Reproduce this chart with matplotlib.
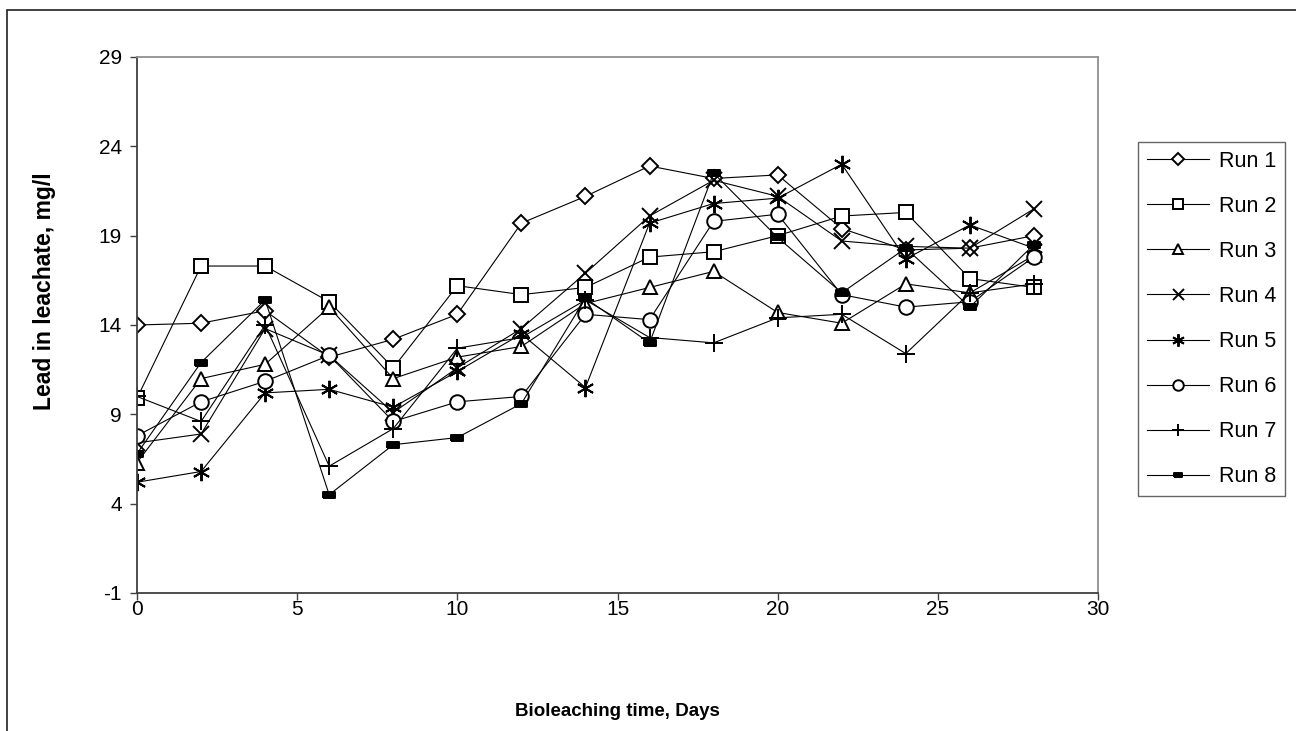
import matplotlib
matplotlib.use("Agg")
import matplotlib.pyplot as plt
from matplotlib.patches import Rectangle

plt.rcParams["font.family"] = ["Liberation Sans", "DejaVu Sans"]
plt.rcParams["axes.unicode_minus"] = False

# 数据（从原图读出，单位 mg/l）
days = [0, 2, 4, 6, 8, 10, 12, 14, 16, 18, 20, 22, 24, 26, 28]
run1 = [14.0, 14.1, 14.8, 12.2, 13.2, 14.6, 19.7, 21.2, 22.9, 22.2, 22.4, 19.4, 18.2, 18.3, 19.0]
run2 = [9.9, 17.3, 17.3, 15.3, 11.6, 16.2, 15.7, 16.1, 17.8, 18.1, 19.0, 20.1, 20.3, 16.6, 16.1]
run3 = [6.3, 11.0, 11.8, 15.0, 11.0, 12.2, 12.8, 15.2, 16.1, 17.0, 14.7, 14.1, 16.3, 15.8, 17.9]
run4 = [7.4, 7.9, 13.8, 12.3, 9.1, 11.6, 13.8, 16.9, 20.1, 22.1, 21.2, 18.7, 18.4, 18.3, 20.5]
run5 = [5.2, 5.8, 10.2, 10.4, 9.4, 11.4, 13.5, 10.5, 19.7, 20.8, 21.1, 23.0, 17.7, 19.6, 18.3]
run6 = [7.8, 9.7, 10.85, 12.3, 8.6, 9.7, 10.0, 14.6, 14.3, 19.8, 20.2, 15.7, 15.0, 15.3, 17.8]
run7 = [10.0, 8.6, 14.0, 6.1, 8.2, 12.7, 13.3, 15.4, 13.3, 13.0, 14.4, 14.6, 12.4, 15.8, 16.3]
run8 = [6.8, 11.9, 15.4, 4.5, 7.3, 7.7, 9.6, 15.5, 13.0, 22.5, 18.9, 15.8, 18.3, 15.0, 18.5]
labels = ["Run 1", "Run 2", "Run 3", "Run 4", "Run 5", "Run 6", "Run 7", "Run 8"]

runs = [run1, run2, run3, run4, run5, run6, run7, run8]

# Excel 风格标记：空心菱形/方块/三角/叉/星/圆/加号/黑色小长条
bar = [(-1, -0.45), (1, -0.45), (1, 0.45), (-1, 0.45), (-1, -0.45)]
styles = [
    dict(marker="D", ms=8.5, mfc="white"),
    dict(marker="s", ms=10.5, mfc="white"),
    dict(marker="^", ms=10.5, mfc="white"),
    dict(marker="x", ms=11),
    dict(marker=(6, 2, 0), ms=12.5),
    dict(marker="o", ms=10.5, mfc="white"),
    dict(marker="+", ms=12.5),
    dict(marker=bar, ms=8.5, mfc="black"),
]

fig = plt.figure(figsize=(12.96, 7.31), dpi=100)
ax = fig.add_axes([137 / 1296, 1 - 593 / 731, (1098 - 137) / 1296, (593 - 57) / 731])

for y, lab, st in zip(runs, labels, styles):
    ax.plot(days, y, color="black", lw=0.8, mec="black", mew=1.4, label=lab, **st)

ax.set_xlim(0, 30)
ax.set_ylim(-1, 29)
ax.set_xticks(range(0, 31, 5))
ax.set_yticks(range(-1, 30, 5))
ax.tick_params(direction="out", length=5, width=1, labelsize=15, color="#404040")
ax.tick_params(axis="y", pad=6)
ax.tick_params(axis="x", pad=0)
for s in ["left", "bottom"]:
    ax.spines[s].set_color("#404040")
    ax.spines[s].set_linewidth(1.3)
for s in ["top", "right"]:
    ax.spines[s].set_color("#909090")
    ax.spines[s].set_linewidth(1.3)

ax.set_xlabel("Bioleaching time, Days", fontsize=13.5, fontweight="bold")
ax.set_ylabel("Lead in leachate, mg/l", fontsize=16.5, fontweight="bold")
ax.xaxis.set_label_coords(0.5, -(711 - 593) / 536, transform=ax.transAxes)
ax.xaxis.label.set_va("center")
ax.yaxis.set_label_coords(-(137 - 45) / 961, (593 - 291) / 536, transform=ax.transAxes)
ax.yaxis.label.set_va("center")

leg = fig.legend(
    loc="upper left",
    bbox_to_anchor=(1138 / 1296, 1 - 142 / 731),
    frameon=True,
    fancybox=False,
    fontsize=15.5,
    handlelength=2.9,
    handletextpad=0.45,
    labelspacing=1.12,
    borderpad=0.4,
    borderaxespad=0,
    markerscale=0.72,
)
leg.get_frame().set_edgecolor("#404040")
leg.get_frame().set_linewidth(1.0)

# 外框
fig.patches.append(
    Rectangle((7 / 1296, -0.01), 1.02, 1 - 10 / 731 + 0.01, transform=fig.transFigure,
              fill=False, edgecolor="#202020", lw=1.2)
)

fig.savefig("out.png", dpi=100)
